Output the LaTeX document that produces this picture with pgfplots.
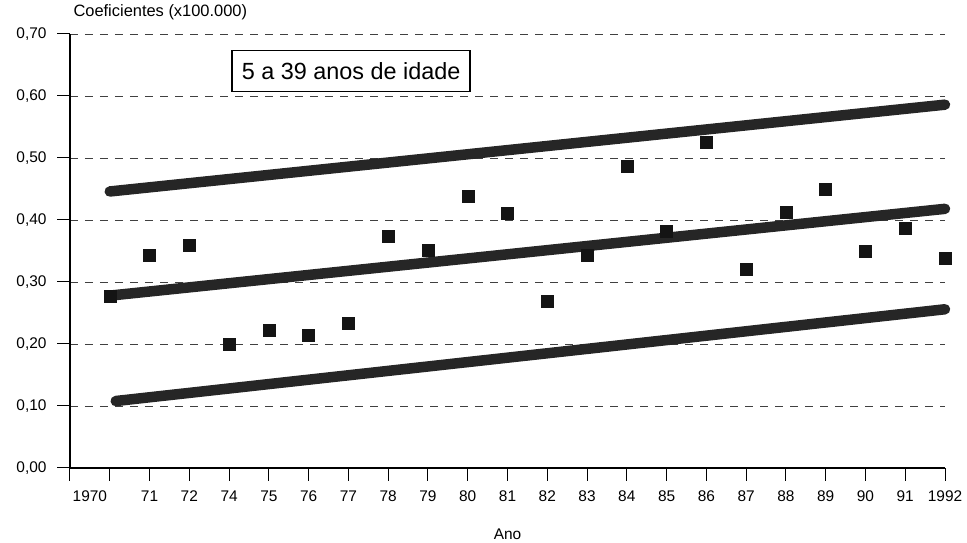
\documentclass[border=0pt]{standalone}
\usepackage{pgfplots}
\pgfplotsset{compat=1.18}
\usepackage{fontspec}
\setmainfont{Liberation Sans}
\usetikzlibrary{calc}
\begin{document}
\begin{tikzpicture}
\begin{axis}[
  scale only axis, width=875bp, height=434bp,
  xmin=0, xmax=22, ymin=0, ymax=0.7,
  axis lines=left, axis line style={-, line width=1.2bp},
  clip=false,
  xtick={0,...,22},
  xticklabels={,,71,72,74,75,76,77,78,79,80,81,82,83,84,85,86,87,88,89,90,91,1992},
  extra x ticks={0.5}, extra x tick labels={1970},
  extra x tick style={major tick length=0pt, xticklabel style={yshift=-13bp}},
  ytick={0,0.1,0.2,0.3,0.4,0.5,0.6,0.7},
  tick align=outside, major tick length=13bp,
  tick style={black, line width=1bp},
  ymajorgrids,
  major grid style={dash pattern=on 8bp off 7bp, line width=0.7bp, black!75},
  /pgf/number format/assume math mode=true,
  y tick label style={/pgf/number format/fixed, /pgf/number format/fixed zerofill,
     /pgf/number format/precision=2, /pgf/number format/use comma, xshift=-7bp},
  tick label style={font=\fontsize{15.5}{18}\selectfont},
  xticklabel style={yshift=-6bp},
  every axis y label/.style={at={(rel axis cs:0,1)}, anchor=base west, yshift=17bp,
     font=\fontsize{16.5}{19}\selectfont},
  every axis x label/.style={at={(rel axis cs:0.5,0)}, anchor=base, yshift=-72bp,
     font=\fontsize{15.5}{18}\selectfont},
  ylabel={Coeficientes (x100.000)},
  xlabel={Ano},
]
\addplot[line width=10.5bp, black!85, line cap=round] coordinates {(1,0.446) (22,0.586)};
\addplot[line width=10.5bp, black!85, line cap=round] coordinates {(1,0.278) (22,0.418)};
\addplot[line width=10.5bp, black!85, line cap=round] coordinates {(1.15,0.108) (22,0.256)};
\addplot[only marks, mark=square*, mark size=6bp, black!92] coordinates {
(1,0.277) (2,0.344) (3,0.360) (4,0.199) (5,0.223) (6,0.214) (7,0.233) (8,0.374)
(9,0.352) (10,0.438) (11,0.411) (12,0.269) (13,0.344) (14,0.486) (15,0.382)
(16,0.525) (17,0.320) (18,0.412) (19,0.450) (20,0.349) (21,0.387) (22,0.338)};
\node[draw, line width=1.5bp, font=\fontsize{23.5}{27}\selectfont, minimum width=238bp,
  minimum height=41bp, inner sep=0pt, fill=white] at (axis cs:7.07,0.6405) {5 a 39 anos de idade};
\coordinate (o) at (rel axis cs:0,0);
\coordinate (t) at (rel axis cs:1,1);
\end{axis}
\pgfresetboundingbox
\path[use as bounding box] ($(o)+(-70bp,-75bp)$) rectangle ($(t)+(22bp,34bp)$);
\end{tikzpicture}
\end{document}
